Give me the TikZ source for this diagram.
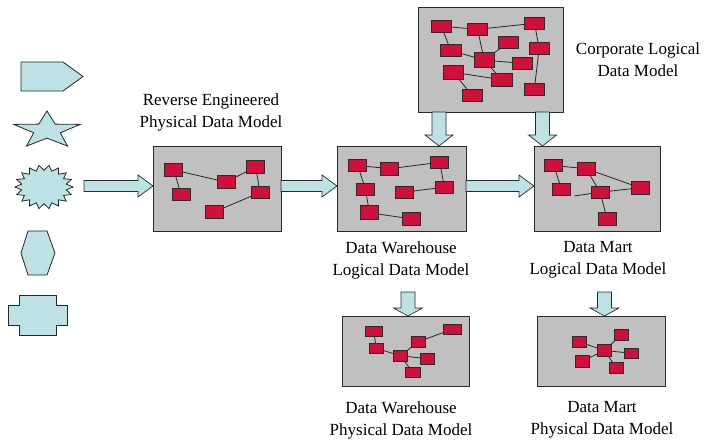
\documentclass[tikz,border=0pt]{standalone}
\usepackage{fontspec}
\setmainfont{Liberation Serif}
\usetikzlibrary{calc}
\definecolor{boxgray}{HTML}{C0C0C0}
\definecolor{entred}{HTML}{D0103A}
\definecolor{shapecyan}{HTML}{BDE1E5}
\definecolor{edgegray}{HTML}{2A2A2A}

% horizontal block arrow from #1 to tip #2
\newcommand\hblock[2]{%
  \draw[blockarrow] ($(#1)+(0,-5.5)$) -- ($(#2)+(-15,-5.5)$) -- ($(#2)+(-15,-11)$)
    -- (#2) -- ($(#2)+(-15,11)$) -- ($(#2)+(-15,5.5)$) -- ($(#1)+(0,5.5)$) -- cycle;}
% vertical block arrow from #1 down to tip #2; shaft half, head half, head length
\newcommand\vblock[5]{%
  \draw[blockarrow] ($(#1)+(-#3,0)$) -- ($(#2)+(-#3,-#5)$) -- ($(#2)+(-#4,-#5)$)
    -- (#2) -- ($(#2)+(#4,-#5)$) -- ($(#2)+(#3,-#5)$) -- ($(#1)+(#3,0)$) -- cycle;}

\begin{document}
\begin{tikzpicture}[x=1pt,y=-1pt,
  model/.style={draw=edgegray, line width=0.9pt, fill=boxgray, anchor=north west,
    inner sep=0pt, outer sep=0pt},
  ent/.style={draw=edgegray, line width=0.8pt, fill=entred, inner sep=0pt, outer sep=0pt,
    minimum width=18pt, minimum height=12.5pt},
  entc/.style={ent, minimum width=20.5pt, minimum height=12.5pt},
  entp/.style={ent, minimum width=14.5pt, minimum height=10.5pt},
  link/.style={draw=black!85, line width=0.8pt},
  blockarrow/.style={draw=edgegray, line width=0.7pt, fill=shapecyan, line join=miter},
  shapeicon/.style={draw=black!85, line width=0.8pt, fill=shapecyan, line join=miter},
  caption/.style={align=center, font=\fontsize{17pt}{22pt}\selectfont, inner sep=0pt}
]
\useasboundingbox (0,0) rectangle (705,441);

% ---- shape palette on the left ----
\draw[shapeicon] (21,62) -- (63,62) -- (83,76.5) -- (63,91) -- (21,91) -- cycle;
\draw[shapeicon] plot[samples at={0,...,9}, variable=\k]
  ({47+35*(1-0.6*mod(\k,2))*cos(90+36*\k)}, {130.4-19.4*(1-0.6*mod(\k,2))*sin(90+36*\k)}) -- cycle;
\draw[shapeicon] plot[samples at={0,...,35}, variable=\k]
  ({44+29*(1-0.22*mod(\k,2))*cos(10*\k)}, {187+22*(1-0.24*mod(\k,2))*sin(10*\k)}) -- cycle;
\draw[shapeicon] (28,231) -- (47,231) -- (55,253) -- (47,275) -- (28,275) -- (21,253) -- cycle;
\draw[shapeicon] (19,295) -- (56,295) -- (56,305) -- (67,305) -- (67,325) -- (56,325)
  -- (56,335) -- (19,335) -- (19,325) -- (8,325) -- (8,305) -- (19,305) -- cycle;

% ---- model boxes ----
\node[model, minimum width=128pt, minimum height=85pt] (rev) at (153,146) {};
\node[model, minimum width=129pt, minimum height=85pt] (dwl) at (337,146) {};
\node[model, minimum width=145pt, minimum height=105pt] (corp) at (418,7) {};
\node[model, minimum width=126pt, minimum height=85pt] (dml) at (534,146) {};
\node[model, minimum width=127pt, minimum height=70pt] (dwp) at (342,316) {};
\node[model, minimum width=128pt, minimum height=70pt] (dmp) at (537,316) {};

% ---- captions ----
\node[caption] (revcap) at (211,112) {Reverse Engineered\\Physical Data Model};
\node[caption] (corpcap) at (638,60) {Corporate Logical\\Data Model};
\node[caption] (dwlcap) at (401,260) {Data Warehouse\\Logical Data Model};
\node[caption] (dmlcap) at (598,260) {Data Mart\\Logical Data Model};
\node[caption] (dwpcap) at (401,420) {Data Warehouse\\Physical Data Model};
\node[caption] (dmpcap) at (602,420) {Data Mart\\Physical Data Model};

% ---- block arrows ----
\coordinate (feed) at (84,186);
\coordinate (dwdrop) at (408,292);
\coordinate (dmdrop) at (604.5,292);
\coordinate (corpl) at (439,112);
\coordinate (corpr) at (542.5,112);
\hblock{feed}{rev.west |- feed}
\hblock{rev.east |- feed}{dwl.west |- feed}
\hblock{dwl.east |- feed}{dml.west |- feed}
\vblock{corp.south -| corpl}{dwl.north -| corpl}{7}{14}{11}
\vblock{corp.south -| corpr}{dml.north -| corpr}{7}{14}{11}
\vblock{dwdrop}{dwp.north -| dwdrop}{7}{14.5}{8}
\vblock{dmdrop}{dmp.north -| dmdrop}{7}{14.5}{8}

% ---- reverse engineered physical model ----
\node[ent] (r1) at (173.8,170) {};
\node[ent] (r2) at (181,194.5) {};
\node[ent] (r3) at (226,182) {};
\node[ent] (r4) at (255.7,167) {};
\node[ent] (r5) at (260,192.5) {};
\node[ent] (r6) at (214,212) {};
\draw[link] (r1) -- (r2) (r1) -- (r3) (r3) -- (r4) (r4) -- (r5) (r5) -- (r6);

% ---- data warehouse logical model ----
\node[ent] (w1) at (357.8,165.5) {};
\node[ent] (w2) at (389.8,168.7) {};
\node[ent] (w3) at (439.8,162.3) {};
\node[ent] (w4) at (365.5,189.5) {};
\node[ent] (w5) at (404,192.2) {};
\node[ent] (w6) at (444.3,187.2) {};
\node[ent, minimum height=14pt] (w7) at (369.5,212.8) {};
\node[ent] (w8) at (411,218.8) {};
\draw[link] (w1) -- (w2) (w2) -- (w3) (w1) -- (w4) (w4) -- (w7) (w7) -- (w8)
  (w3) -- (w6) (w5) -- (w6);

% ---- corporate logical model ----
\node[entc] (c1) at (441.3,26.2) {};
\node[entc] (c2) at (477.5,29.3) {};
\node[entc] (c3) at (534.5,23.3) {};
\node[entc] (c4) at (450.7,50.3) {};
\node[entc] (c5) at (508.5,42.2) {};
\node[entc] (c6) at (539.2,48.5) {};
\node[entc, minimum width=20pt, minimum height=15pt] (c7) at (484.3,60.2) {};
\node[entc] (c8) at (522.2,63.3) {};
\node[entc, minimum width=20pt, minimum height=14pt] (c9) at (453.3,72.3) {};
\node[entc] (c10) at (501.7,79.7) {};
\node[entc] (c11) at (472.3,95.5) {};
\node[entc] (c12) at (534.3,89.5) {};
\draw[link] (c1) -- (c2) (c1) -- (c4) (c2) -- (c3) (c2) -- (c7) (c4) -- (c7)
  (c5) -- (c7) (c7) -- (c8) (c7) -- (c10) (c9) -- (c10) (c9) -- (c11)
  (c3) -- (c6) (c6) -- (c12);

% ---- data mart logical model ----
\node[ent] (m1) at (553.8,165.5) {};
\node[ent] (m2) at (586,168.7) {};
\node[ent] (m3) at (561.5,189.5) {};
\node[ent] (m4) at (600.2,192.2) {};
\node[ent] (m5) at (640.2,187.8) {};
\node[ent] (m6) at (607,218.8) {};
\coordinate (mstub) at (574.3,196);
\draw[link] (m1) -- (m2) (m1) -- (m3) (m2) -- (m5) (m2) -- (m4) (m4) -- (m5)
  (m4) -- (m6) (m4) -- (mstub);

% ---- data warehouse physical model ----
\node[entp, minimum width=17.3pt, minimum height=10pt] (p1) at (373.7,331) {};
\node[entp] (p2) at (376.2,348.3) {};
\node[entp, minimum height=11.7pt] (p3) at (400.5,355.8) {};
\node[entp] (p4) at (418.3,341.7) {};
\node[entp, minimum width=18.3pt] (p5) at (452.5,329.2) {};
\node[entp] (p6) at (427.5,358.7) {};
\node[entp] (p7) at (412.7,372.3) {};
\draw[link] (p1) -- (p2) (p2) -- (p3) (p3) -- (p4) (p4) -- (p5) (p3) -- (p6) (p3) -- (p7);

% ---- data mart physical model ----
\node[entp] (q1) at (579.5,342) {};
\node[entp] (q2) at (621.5,334.7) {};
\node[entp, minimum height=12.3pt] (q3) at (604.3,350.5) {};
\node[entp] (q4) at (631.5,353.2) {};
\node[entp, minimum height=12.7pt] (q5) at (582.2,361.3) {};
\node[entp] (q6) at (616.3,367.7) {};
\draw[link] (q1) -- (q3) (q3) -- (q2) (q3) -- (q4) (q3) -- (q5) (q3) -- (q6);
\end{tikzpicture}
\end{document}
